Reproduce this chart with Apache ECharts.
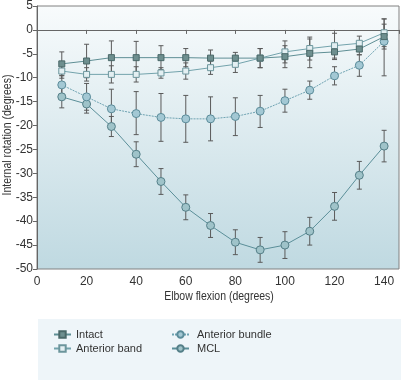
<!DOCTYPE html>
<html><head><meta charset="utf-8">
<script src="https://cdn.jsdelivr.net/npm/echarts@6/dist/echarts.min.js"></script>
<style>html,body{margin:0;padding:0;background:#fff}#c{width:401px;height:380px}</style>
</head><body><div id="c"></div>
<script>
const flexion = [10,20,30,40,50,60,70,80,90,100,110,120,130,140];
const intact = [-7.1,-6.5,-5.8,-5.8,-5.8,-5.8,-5.9,-5.9,-5.9,-5.6,-4.9,-4.6,-4.0,-1.4];
const intactErr = [2.5,3.5,3.5,3.4,2.5,1.9,1.7,1.2,2.0,2.3,3.0,1.6,1.2,2.6];
const antBand = [-8.6,-9.3,-9.3,-9.3,-9.0,-8.6,-7.9,-7.2,-5.9,-4.6,-3.9,-3.3,-2.8,-0.6];
const antBandErr = [1.5,1.4,1.8,1.6,1.1,1.7,1.4,1.7,2.0,2.3,2.4,2.6,1.5,2.9];
const antBundle = [-11.5,-14.0,-16.5,-17.5,-18.3,-18.6,-18.6,-18.1,-17.0,-14.8,-12.6,-9.6,-7.4,-2.4];
const antBundleErrLow = [2.0,2.8,4.1,4.4,5.0,4.9,4.6,4.0,3.4,2.4,1.9,1.9,2.3,7.2];
const antBundleErrHigh = [2.0,2.8,4.1,4.6,5.0,4.9,4.6,3.9,3.3,2.4,1.9,1.9,2.2,4.7];
const mcl = [-14.0,-15.5,-20.2,-26.0,-31.7,-37.1,-40.9,-44.4,-46.0,-45.0,-42.1,-36.9,-30.4,-24.3];
const mclErr = [2.3,1.9,2.1,2.6,2.7,2.6,2.5,2.6,2.6,2.8,2.9,2.9,2.9,3.3];
const xTicks = [0,20,40,60,80,100,120,140];
const yTicks = [5,0,-5,-10,-15,-20,-25,-30,-35,-40,-45,-50];
const xTitle = 'Elbow flexion (degrees)';
const yTitle = 'Internal rotation (degrees)';

function errData(vals, lo, hi) {
  return flexion.map((x, i) => [x, vals[i], vals[i] - lo[i], vals[i] + hi[i]]);
}
function errSeries(name, data) {
  return {
    type: 'custom', name: name + ' err', z: 1, silent: true,
    data: data, encode: {x: 0, y: [1, 2, 3]},
    renderItem: function (params, api) {
      const x = api.value(0);
      const pLo = api.coord([x, api.value(2)]);
      const pHi = api.coord([x, api.value(3)]);
      const w = 2.5;
      const st = {stroke: '#5a5a5a', lineWidth: 1};
      return {type: 'group', children: [
        {type: 'line', shape: {x1: pLo[0], y1: pLo[1], x2: pHi[0], y2: pHi[1]}, style: st},
        {type: 'line', shape: {x1: pLo[0]-w, y1: pLo[1], x2: pLo[0]+w, y2: pLo[1]}, style: st},
        {type: 'line', shape: {x1: pHi[0]-w, y1: pHi[1], x2: pHi[0]+w, y2: pHi[1]}, style: st}
      ]};
    }
  };
}
function lineSeries(name, vals, opts) {
  return {
    type: 'line', name: name, z: 3,
    data: flexion.map((x, i) => [x, vals[i]]),
    symbol: opts.symbol, symbolSize: opts.size,
    lineStyle: {color: opts.line, width: 1, type: opts.dash || 'solid'},
    itemStyle: {color: opts.fill, borderColor: opts.border, borderWidth: 1},
    emphasis: {disabled: true}
  };
}
const font = '"Liberation Sans", Arial, sans-serif';
const chart = echarts.init(document.getElementById('c'), null, {renderer: 'canvas'});
chart.setOption({
  animation: false,
  backgroundColor: '#ffffff',
  textStyle: {fontFamily: font},
  graphic: [
    {type: 'rect', left: 38, top: 319, shape: {width: 363, height: 61}, style: {fill: '#eef5f9'}, z: -1},
    {type: 'text', x: 219, y: 297, scaleX: 0.84, z: 10,
     style: {text: xTitle, font: '12.5px "Liberation Sans", Arial, sans-serif', fill: '#333', align: 'center', verticalAlign: 'middle'}},
    {type: 'text', x: 8, y: 135, rotation: Math.PI / 2, scaleX: 0.84, z: 10,
     style: {text: yTitle, font: '12.5px "Liberation Sans", Arial, sans-serif', fill: '#333', align: 'center', verticalAlign: 'middle'}}
  ],
  grid: {
    left: 37, right: 2, top: 6, bottom: 111, show: true, outerBoundsMode: 'none', containLabel: false,
    backgroundColor: new echarts.graphic.LinearGradient(0, 0, 0, 1, [
      {offset: 0, color: '#f8fbfc'}, {offset: 1, color: '#bfd9e1'}]),
    borderColor: '#808080', borderWidth: 1
  },
  xAxis: {
    type: 'value', min: 0, max: 146, interval: 20,
    axisLine: {lineStyle: {color: '#666'}},
    axisTick: {show: true, length: 4, lineStyle: {color: '#666'}},
    splitLine: {show: false},
    axisLabel: {color: '#333', fontSize: 12, fontFamily: font, margin: 7,
      formatter: v => xTicks.includes(v) ? String(v) : ''}
  },
  yAxis: {
    type: 'value', min: -50, max: 5, interval: 5,
    axisLine: {show: true, lineStyle: {color: '#666'}},
    axisTick: {show: true, length: 4, lineStyle: {color: '#666'}},
    splitLine: {show: false},
    axisLabel: {color: '#333', fontSize: 12, fontFamily: font, margin: 4,
      formatter: v => yTicks.includes(v) ? String(v) : ''}
  },
  legend: [
    {orient: 'vertical', left: 53, top: 329, padding: 0, itemWidth: 17, itemHeight: 8, itemGap: 3,
     textStyle: {color: '#333', fontSize: 11, fontFamily: font}, data: ['Intact', 'Anterior band']},
    {orient: 'vertical', left: 171, top: 329, padding: 0, itemWidth: 17, itemHeight: 8, itemGap: 3,
     textStyle: {color: '#333', fontSize: 11, fontFamily: font, padding: [0, 0, 0, 3]}, data: ['Anterior bundle', 'MCL']}
  ],
  series: [
    errSeries('MCL', errData(mcl, mclErr, mclErr)),
    errSeries('Anterior bundle', errData(antBundle, antBundleErrLow, antBundleErrHigh)),
    errSeries('Anterior band', errData(antBand, antBandErr, antBandErr)),
    errSeries('Intact', errData(intact, intactErr, intactErr)),
    lineSeries('MCL', mcl, {symbol: 'circle', size: 8, line: '#5b8f99', fill: '#9fc3c9', border: '#547f88'}),
    lineSeries('Anterior bundle', antBundle, {symbol: 'circle', size: 8, line: '#6fa3b2', fill: '#a3c8d4', border: '#5b8c9a', dash: [2, 1]}),
    lineSeries('Anterior band', antBand, {symbol: 'rect', size: 6, line: '#73a3ac', fill: '#e3eff2', border: '#6c959c'}),
    lineSeries('Intact', intact, {symbol: 'rect', size: 6, line: '#5f8f95', fill: '#6e8f8f', border: '#4a6868'})
  ]
});
</script></body></html>
